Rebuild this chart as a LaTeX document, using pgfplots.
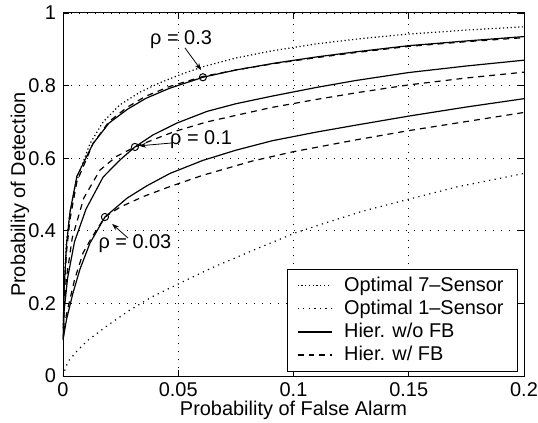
\documentclass[border=0pt]{standalone}
\usepackage{fontspec}
\setmainfont{Liberation Sans}
\usepackage{pgfplots}
\pgfplotsset{compat=1.18}
\usetikzlibrary{arrows.meta}

\begin{document}
\begin{tikzpicture}
\begin{axis}[
    name=ax,
    scale only axis,
    width=230.5bp, height=181.5bp,
    xmin=0, xmax=0.2, ymin=0, ymax=1,
    xtick={0,0.05,0.1,0.15,0.2},
    xticklabels={0,0.05,0.1,0.15,0.2},
    ytick={0,0.2,0.4,0.6,0.8,1},
    yticklabels={0,0.2,0.4,0.6,0.8,1},
    tick align=inside,
    major tick length=3bp,
    tick style={black, line width=0.4pt},
    axis line style={black, line width=0.5pt},
    grid=major,
    grid style={black, line width=0.4pt, dash pattern=on 0.5pt off 3.5pt},
    xlabel={Probability of False Alarm},
    ylabel={Probability of Detection},
    xlabel style={at={(axis description cs:0.5,-0.0937)}, anchor=center},
    ylabel style={at={(axis description cs:-0.0933,0.5)}, anchor=center},
    /pgf/number format/assume math mode=true,
    legend style={at={(0.987,0.011)}, anchor=south east, draw=black, fill=white,
        font=\fontsize{10}{11}\selectfont, row sep=-1.2pt, inner xsep=5bp, inner ysep=2bp,
        /tikz/every odd column/.append style={column sep=4bp}},
    legend cell align=left,
]
% Optimal 7-Sensor
\addplot[black, line width=0.6pt, dash pattern=on 0.6pt off 1.3pt] coordinates {
(0,0.1)(0.0005,0.25)(0.0015,0.37)(0.003,0.45)(0.005,0.515)(0.0074,0.567)(0.0117,0.64)(0.0174,0.70)(0.0247,0.747)(0.0334,0.782)(0.0421,0.808)(0.0508,0.830)(0.0607,0.852)(0.075,0.876)(0.09,0.895)(0.11,0.915)(0.13,0.930)(0.15,0.942)(0.175,0.953)(0.2,0.962)};
\addlegendentry{Optimal 7--Sensor}
% Optimal 1-Sensor
\addplot[black, line width=0.6pt, dash pattern=on 0.6pt off 2.2pt] coordinates {
(0,0)(0.001,0.02)(0.0022,0.04)(0.006,0.068)(0.0105,0.097)(0.0195,0.14)(0.0286,0.18)(0.0386,0.218)(0.0508,0.256)(0.0646,0.298)(0.0846,0.352)(0.1007,0.394)(0.115,0.424)(0.13,0.454)(0.15,0.487)(0.171,0.521)(0.2,0.558)};
\addlegendentry{Optimal 1--Sensor}
% Hier. w/o FB, rho = 0.3
\addplot[black, line width=0.6pt] coordinates {
(0,0.1)(0.0005,0.24)(0.0015,0.36)(0.003,0.45)(0.006,0.55)(0.013,0.64)(0.02,0.697)(0.028,0.735)(0.036,0.765)(0.046,0.792)(0.0607,0.823)(0.075,0.843)(0.092,0.862)(0.11,0.879)(0.127,0.893)(0.15,0.910)(0.175,0.923)(0.2,0.935)};
\addlegendentry{Hier. w/o FB}
% Hier. w/ FB, rho = 0.3
\addplot[black, line width=0.6pt, dash pattern=on 3pt off 2.5pt] coordinates {
(0,0.1)(0.0005,0.22)(0.0015,0.34)(0.003,0.43)(0.006,0.535)(0.013,0.64)(0.02,0.701)(0.028,0.741)(0.036,0.771)(0.046,0.797)(0.0607,0.825)(0.075,0.843)(0.092,0.861)(0.11,0.877)(0.127,0.891)(0.15,0.908)(0.175,0.921)(0.2,0.932)};
\addlegendentry{Hier. w/ FB}
% rho = 0.1
\addplot[black, line width=0.6pt, forget plot] coordinates {
(0,0.1)(0.0005,0.18)(0.002,0.27)(0.005,0.37)(0.01,0.46)(0.0174,0.548)(0.0247,0.595)(0.0312,0.631)(0.039,0.664)(0.0495,0.697)(0.0625,0.729)(0.075,0.750)(0.0907,0.771)(0.11,0.795)(0.127,0.814)(0.15,0.836)(0.175,0.854)(0.2,0.870)};
\addplot[black, line width=0.6pt, dash pattern=on 3pt off 2.5pt, forget plot] coordinates {
(0,0.1)(0.0004,0.18)(0.0015,0.27)(0.004,0.38)(0.009,0.49)(0.016,0.567)(0.0232,0.605)(0.0312,0.631)(0.042,0.658)(0.0486,0.674)(0.0625,0.700)(0.075,0.718)(0.0907,0.740)(0.11,0.762)(0.127,0.780)(0.15,0.802)(0.175,0.821)(0.2,0.837)};
% rho = 0.03
\addplot[black, line width=0.6pt, forget plot] coordinates {
(0,0.1)(0.0015,0.155)(0.0043,0.228)(0.0074,0.295)(0.0117,0.366)(0.0182,0.438)(0.0278,0.490)(0.0364,0.524)(0.0464,0.558)(0.0607,0.594)(0.075,0.622)(0.0907,0.648)(0.11,0.672)(0.127,0.691)(0.15,0.716)(0.175,0.741)(0.2,0.764)};
\addplot[black, line width=0.6pt, dash pattern=on 3pt off 2.5pt, forget plot] coordinates {
(0,0.1)(0.0015,0.17)(0.005,0.265)(0.0087,0.339)(0.0126,0.383)(0.0182,0.438)(0.0247,0.465)(0.0347,0.494)(0.046,0.521)(0.0607,0.553)(0.082,0.592)(0.1,0.618)(0.1267,0.650)(0.15,0.676)(0.175,0.701)(0.2,0.726)};
% markers
\addplot[only marks, mark=o, mark size=1.8pt, black, mark options={line width=0.5pt}, forget plot] coordinates {
(0.0607,0.823)(0.0312,0.631)(0.0182,0.438)};
% annotations
\node at (axis cs:0.0512,0.926) {ρ = 0.3};
\draw[line width=0.4pt, -{Stealth[length=3.5pt,width=2.5pt]}] (axis cs:0.0529,0.904) -- (axis cs:0.0599,0.843);
\node at (axis cs:0.0599,0.650) {ρ = 0.1};
\draw[line width=0.4pt, -{Stealth[length=3.5pt,width=2.5pt]}] (axis cs:0.0473,0.642) -- (axis cs:0.033,0.634);
\node at (axis cs:0.0312,0.366) {ρ = 0.03};
\draw[line width=0.4pt, -{Stealth[length=3.5pt,width=2.5pt]}] (axis cs:0.0282,0.380) -- (axis cs:0.0213,0.419);
\end{axis}
\pgfresetboundingbox
\path ([shift={(-31.5bp,-23.5bp)}]ax.south west) rectangle ([shift={(7bp,6.5bp)}]ax.north east);
\end{tikzpicture}
\end{document}
